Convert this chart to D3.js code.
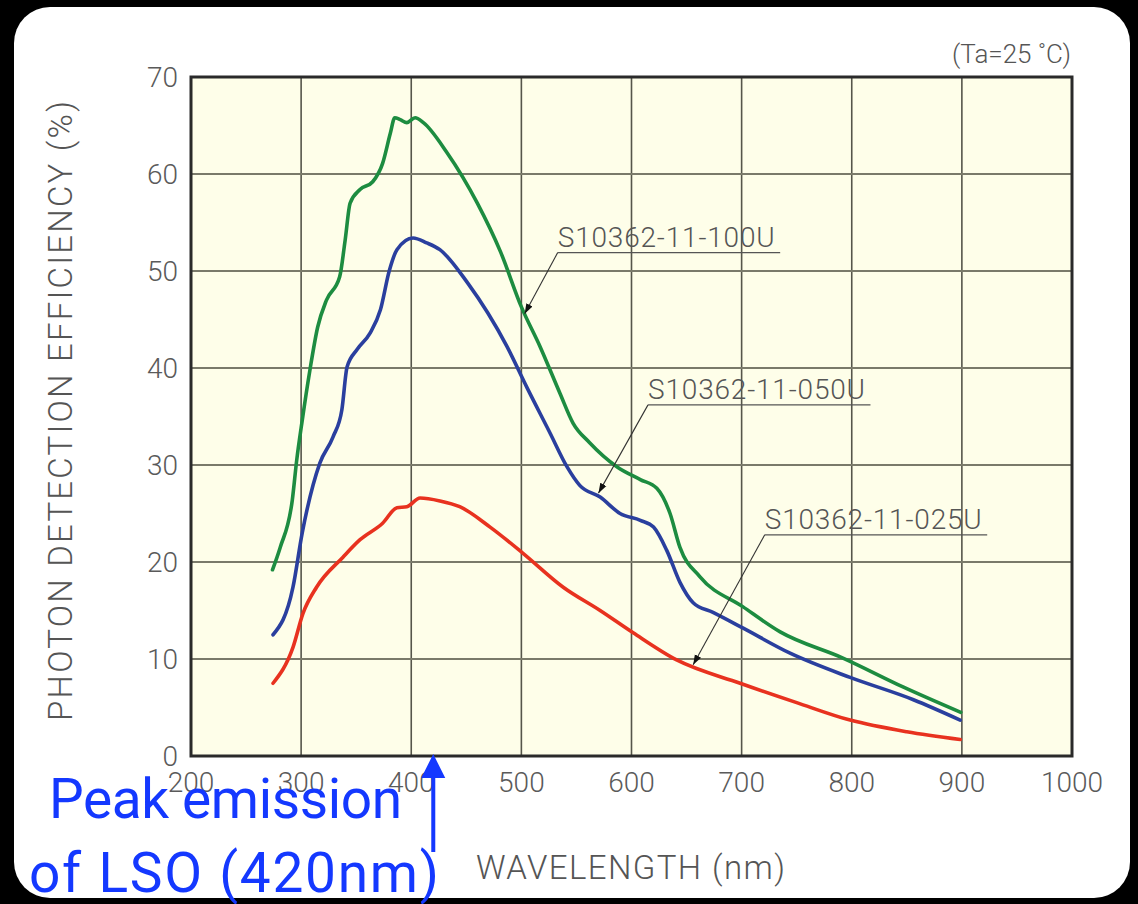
<!DOCTYPE html>
<html>
<head>
<meta charset="utf-8">
<script src="https://cdn.jsdelivr.net/npm/d3@7"></script>
<style>
  html, body { margin: 0; padding: 0; background: #000; }
  svg { display: block; }
  text { font-family: Roboto, "Liberation Sans", sans-serif; }
</style>
</head>
<body>
<div id="chart"></div>
<script>
// tick values
let xTicks = [200, 300, 400, 500, 600, 700, 800, 900, 1000]
let yTicks = [0, 10, 20, 30, 40, 50, 60, 70]

// S10362-11-100U (green)
let nm100 = [274, 281, 292, 296, 301, 308, 315, 323, 335, 340, 344.5, 353.5, 365, 374, 381, 385, 390, 396, 403.5, 411, 432.5, 460, 481, 500, 517, 535, 547, 562, 587, 608, 623, 635, 644, 662, 701, 735, 792, 847, 899]
let pde100 = [19.2, 21.5, 26.4, 30.5, 34.6, 39.8, 44.2, 47, 49.4, 53.2, 57, 58.4, 59.2, 61.1, 64.2, 65.8, 65.6, 65.3, 65.8, 65.3, 62.2, 57, 52, 46.3, 42.2, 37.4, 34.3, 32.3, 29.8, 28.5, 27.6, 25, 21.5, 18.5, 15.4, 12.8, 10.1, 7.1, 4.5]

// S10362-11-050U (blue)
let nm050 = [274.5, 292.6, 301, 317, 329, 337, 341.7, 350.8, 362.6, 372, 380, 387, 401.6, 414, 426, 451, 487, 505, 526, 541.5, 553, 571.5, 589.6, 608, 620, 632, 644, 656, 674, 701, 744, 798.5, 856, 898.5]
let pde050 = [12.5, 17.4, 23, 30.2, 32.9, 35.7, 40.1, 41.9, 43.6, 46, 50, 52.2, 53.4, 52.9, 52.2, 48.8, 42.2, 38, 33.3, 29.8, 27.9, 26.7, 25, 24.3, 23.6, 21.2, 17.9, 15.8, 14.8, 13.2, 10.6, 8.1, 5.8, 3.7]

// S10362-11-025U (red)
let nm025 = [274.5, 292.6, 301.7, 314, 338, 353.5, 374, 387, 396, 408, 426, 444, 471.6, 501.5, 538, 571.5, 601.5, 641, 698.6, 750, 798.5, 850, 898.5]
let pde025 = [7.5, 11.2, 14.7, 17.4, 20.5, 22.3, 24, 25.6, 25.7, 26.6, 26.3, 25.7, 23.6, 20.9, 17.4, 15, 12.7, 9.9, 7.5, 5.5, 3.7, 2.5, 1.7]

let seriesNames = ['S10362-11-100U', 'S10362-11-050U', 'S10362-11-025U']
// where each leader arrow points (nm, %) and where its label sits (nm, %, underline end nm)
let tipNm = [503, 570, 656]
let tipPde = [45.6, 27.1, 9.4]
let labelNm = [533, 615, 721]
let labelPde = [51.9, 36.2, 22.8]
let labelEndNm = [735, 817, 923]

let peakNm = 420

let width = 1138,
    height = 904

let svg = d3.select('#chart').append('svg')
    .attr('width', width)
    .attr('height', height)

let x = d3.scaleLinear().domain([200, 1000]).range([191, 1072])
let y = d3.scaleLinear().domain([0, 70]).range([756, 77])

// white card
svg.append('rect')
    .attr('x', 14).attr('y', 7)
    .attr('width', 1116).attr('height', 891)
    .attr('rx', 36)
    .attr('fill', '#fff')

// plot background
svg.append('rect')
    .attr('x', x(200)).attr('y', y(70))
    .attr('width', x(1000) - x(200)).attr('height', y(0) - y(70))
    .attr('fill', '#fefee9')

// grid
let grid = svg.append('g')
grid.selectAll('line.v')
    .data(xTicks.slice(1, -1))
    .enter().append('line')
    .attr('x1', d => x(d)).attr('x2', d => x(d))
    .attr('y1', y(70)).attr('y2', y(0))
    .attr('stroke', '#55554a')
    .attr('stroke-width', 1.6)
grid.selectAll('line.h')
    .data(yTicks.slice(1, -1))
    .enter().append('line')
    .attr('x1', x(200)).attr('x2', x(1000))
    .attr('y1', d => y(d)).attr('y2', d => y(d))
    .attr('stroke', '#7a7a6a')
    .attr('stroke-width', 2)

// frame
svg.append('rect')
    .attr('x', x(200)).attr('y', y(70))
    .attr('width', x(1000) - x(200)).attr('height', y(0) - y(70))
    .attr('fill', 'none')
    .attr('stroke', '#2a2a2a')
    .attr('stroke-width', 3)

// tick labels
svg.append('g').selectAll('text')
    .data(yTicks)
    .enter().append('text')
    .attr('x', 178)
    .attr('y', d => y(d))
    .attr('dy', '0.36em')
    .attr('text-anchor', 'end')
    .attr('font-size', 28)
    .attr('font-weight', 300)
    .attr('fill', '#5a5a5a')
    .text(d => d)

svg.append('g').selectAll('text')
    .data(xTicks)
    .enter().append('text')
    .attr('x', d => x(d))
    .attr('y', 792)
    .attr('text-anchor', 'middle')
    .attr('font-size', 28)
    .attr('font-weight', 300)
    .attr('fill', '#5a5a5a')
    .text(d => d)

// curves
let line = d3.line()
    .x(d => x(d[0]))
    .y(d => y(d[1]))
    .curve(d3.curveMonotoneX)

let curves = [
  { nm: nm100, pde: pde100, color: '#1d8c40' },
  { nm: nm050, pde: pde050, color: '#2a3f9e' },
  { nm: nm025, pde: pde025, color: '#e8321f' }
]

svg.append('g').selectAll('path')
    .data(curves)
    .enter().append('path')
    .attr('d', d => line(d.nm.map((v, i) => [v, d.pde[i]])))
    .attr('fill', 'none')
    .attr('stroke', d => d.color)
    .attr('stroke-width', 3.6)
    .attr('stroke-linejoin', 'round')
    .attr('stroke-linecap', 'round')

// leader labels
svg.append('defs').append('marker')
    .attr('id', 'tip')
    .attr('viewBox', '0 0 10 10')
    .attr('refX', 10).attr('refY', 5)
    .attr('markerWidth', 10).attr('markerHeight', 10)
    .attr('markerUnits', 'userSpaceOnUse')
    .attr('orient', 'auto')
    .append('path')
    .attr('d', 'M0,1.5 L10,5 L0,8.5 Z')
    .attr('fill', '#111')

seriesNames.forEach((name, i) => {
  let lx = x(labelNm[i]), ly = y(labelPde[i])
  let g = svg.append('g')
  g.append('line')
      .attr('x1', lx).attr('y1', ly)
      .attr('x2', x(tipNm[i])).attr('y2', y(tipPde[i]))
      .attr('stroke', '#333')
      .attr('stroke-width', 1.1)
      .attr('marker-end', 'url(#tip)')
  g.append('line')
      .attr('x1', lx).attr('y1', ly)
      .attr('x2', x(labelEndNm[i])).attr('y2', ly)
      .attr('stroke', '#555')
      .attr('stroke-width', 1.2)
  g.append('text')
      .attr('x', lx)
      .attr('y', ly - 6)
      .attr('font-size', 28)
      .attr('font-weight', 300)
      .attr('fill', '#555')
      .attr('textLength', 217)
      .text(name)
})

// titles
svg.append('text')
    .attr('transform', 'translate(72,411) rotate(-90)')
    .attr('text-anchor', 'middle')
    .attr('font-size', 33)
    .attr('font-weight', 300)
    .attr('fill', '#555')
    .attr('textLength', 620)
    .text('PHOTON DETECTION EFFICIENCY (%)')

svg.append('text')
    .attr('x', 476)
    .attr('y', 879)
    .attr('font-size', 33)
    .attr('font-weight', 300)
    .attr('fill', '#555')
    .attr('textLength', 309)
    .text('WAVELENGTH (nm)')

svg.append('text')
    .attr('x', 1071)
    .attr('y', 63)
    .attr('text-anchor', 'end')
    .attr('font-size', 26)
    .attr('font-weight', 300)
    .attr('fill', '#555')
    .text('(Ta=25 \u02DAC)')

// LSO peak annotation
let blue = '#1438ff'
let ax = x(peakNm)
svg.append('line')
    .attr('x1', ax).attr('x2', ax)
    .attr('y1', 852).attr('y2', 775)
    .attr('stroke', blue)
    .attr('stroke-width', 4)
svg.append('path')
    .attr('d', `M${ax},${y(0) - 2} L${ax + 12},778 L${ax - 12},778 Z`)
    .attr('fill', blue)

svg.append('text')
    .attr('x', 49)
    .attr('y', 818)
    .attr('font-family', 'Lato, "Open Sans", sans-serif')
    .attr('font-size', 55)
    .attr('fill', blue)
    .attr('textLength', 353)
    .text('Peak emission')
svg.append('text')
    .attr('x', 29)
    .attr('y', 892)
    .attr('font-family', 'Lato, "Open Sans", sans-serif')
    .attr('font-size', 55)
    .attr('fill', blue)
    .attr('textLength', 410)
    .text('of LSO (420nm)')
</script>
</body>
</html>
